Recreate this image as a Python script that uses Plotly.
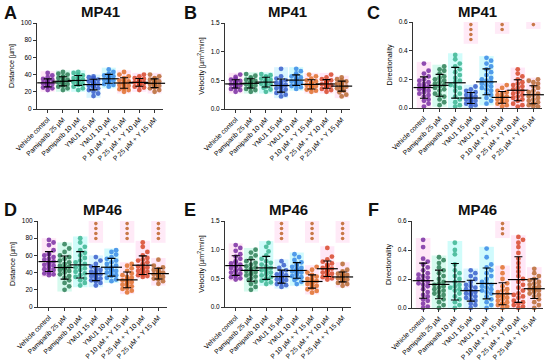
import numpy as np
import plotly.graph_objects as go

categories = ["Vehicle control", "Pamiparib 25 µM", "Pamiparib 10 µM", "YMU1 15 µM",
              "YMU1 10 µM", "P 10 µM + Y 15 µM", "P 25 µM + Y 10 µM", "P 25 µM + Y 15 µM"]
colors = ["#7a2fa3", "#2f7f57", "#3db592", "#3a5fcd", "#3a8ae6", "#e0702c", "#d8482a", "#b86a32"]
band_colors = ["rgba(255,170,225,0.28)", "rgba(120,240,200,0.30)", "rgba(120,245,240,0.35)",
               "rgba(150,225,255,0.35)", "rgba(120,240,250,0.35)", "rgba(255,170,225,0.28)",
               "rgba(255,170,225,0.28)", "rgba(255,170,225,0.28)"]

dist_mp41 = [
    [22,24,25,26,27,27,28,28,29,29,29,30,30,30,31,31,32,32,33,34,35,37,39,42],
    [22,24,26,27,28,29,29,30,30,31,31,32,32,33,33,34,35,36,37,38,40,41,43],
    [22,24,26,28,29,30,31,32,32,33,33,34,35,36,37,38,39,40,42,43],
    [15,18,20,22,24,25,26,27,27,28,28,29,30,30,31,32,33,34,35,36,37,38],
    [26,28,29,30,31,32,33,34,34,35,35,36,36,37,38,39,40,41,43,46],
    [20,22,23,24,25,26,27,28,29,29,30,30,31,32,33,34,35,36,38,40,43],
    [22,25,26,27,28,29,29,30,30,31,31,32,32,33,34,35,36,38,40],
    [20,22,24,25,26,27,28,28,29,29,30,30,31,31,32,33,34,35,36,38,40],
]
vel_mp41 = [
    [0.30,0.33,0.35,0.37,0.38,0.39,0.40,0.41,0.42,0.42,0.43,0.43,0.44,0.44,0.45,0.46,0.47,0.48,0.49,0.51,0.53,0.56,0.60],
    [0.30,0.33,0.35,0.37,0.38,0.40,0.41,0.42,0.43,0.44,0.44,0.45,0.46,0.47,0.48,0.49,0.51,0.53,0.55,0.58,0.61],
    [0.30,0.34,0.37,0.39,0.41,0.43,0.44,0.46,0.47,0.48,0.49,0.50,0.51,0.53,0.55,0.57,0.59,0.61],
    [0.22,0.25,0.28,0.30,0.32,0.34,0.36,0.38,0.39,0.40,0.41,0.42,0.43,0.45,0.46,0.48,0.50,0.53,0.57,0.70],
    [0.35,0.38,0.40,0.42,0.43,0.45,0.46,0.47,0.48,0.49,0.50,0.51,0.52,0.53,0.55,0.57,0.59,0.62,0.66,0.70],
    [0.30,0.32,0.34,0.36,0.37,0.38,0.39,0.40,0.41,0.42,0.43,0.44,0.45,0.46,0.48,0.50,0.53,0.57,0.60],
    [0.30,0.33,0.35,0.37,0.39,0.40,0.41,0.42,0.43,0.43,0.44,0.45,0.46,0.47,0.48,0.50,0.52,0.55,0.60],
    [0.22,0.25,0.29,0.32,0.34,0.36,0.37,0.38,0.39,0.40,0.41,0.42,0.43,0.44,0.45,0.46,0.48,0.50,0.52,0.55],
]
dir_mp41 = [
    [0.01,0.03,0.05,0.06,0.08,0.09,0.10,0.11,0.12,0.13,0.13,0.14,0.15,0.15,0.16,0.17,0.18,0.19,0.20,0.22,0.24,0.26,0.31],
    [0.02,0.04,0.06,0.08,0.09,0.10,0.12,0.13,0.14,0.15,0.16,0.17,0.18,0.19,0.20,0.21,0.22,0.24,0.26,0.27,0.29],
    [0.01,0.02,0.04,0.06,0.08,0.10,0.12,0.14,0.15,0.16,0.18,0.19,0.21,0.23,0.25,0.27,0.29,0.31,0.34,0.37],
    [0.01,0.02,0.03,0.03,0.04,0.04,0.05,0.05,0.06,0.06,0.07,0.07,0.08,0.08,0.09,0.10,0.11,0.12,0.13,0.15],
    [0.03,0.05,0.07,0.09,0.10,0.12,0.13,0.14,0.15,0.16,0.17,0.18,0.19,0.20,0.21,0.23,0.25,0.27,0.29,0.31,0.33,0.35],
    [0.01,0.02,0.03,0.04,0.04,0.05,0.06,0.06,0.07,0.07,0.08,0.08,0.09,0.10,0.11,0.12,0.14,0.16],
    [0.01,0.02,0.03,0.05,0.06,0.07,0.08,0.09,0.10,0.11,0.12,0.13,0.14,0.15,0.16,0.17,0.18,0.20,0.22,0.24,0.27],
    [0.01,0.01,0.02,0.03,0.03,0.04,0.05,0.06,0.07,0.08,0.09,0.10,0.11,0.12,0.14,0.15,0.17,0.18,0.19,0.20],
]
dist_mp46 = [
    [37,38,39,40,41,43,44,45,47,48,49,50,51,52,53,55,56,58,60,61,62,66,72,75,78],
    [20,24,28,31,34,36,38,40,42,43,44,45,46,47,48,50,52,54,56,58,60,64,68,73],
    [25,28,31,33,35,37,39,41,43,45,46,48,50,52,54,57,60,63,66,70,75,80],
    [25,28,30,31,32,33,34,35,36,36,37,38,38,39,40,41,42,43,45,47,50,54,58],
    [30,32,34,36,37,38,40,41,42,43,44,45,46,48,50,52,54,56,58,61,64,66],
    [17,19,21,22,24,25,26,27,28,29,30,31,32,33,34,35,37,39,42,45,48,50],
    [35,36,37,38,39,40,41,42,43,44,45,46,47,48,50,52,54,55,57,60,64,70,75],
    [27,30,32,33,34,35,36,37,37,38,38,39,39,40,40,41,42,43,44,46,48,55],
]
vel_mp46 = [
    [0.48,0.50,0.52,0.54,0.56,0.58,0.60,0.62,0.64,0.66,0.68,0.70,0.72,0.74,0.76,0.78,0.80,0.84,0.88,0.92,0.98,1.03,1.08],
    [0.30,0.35,0.40,0.44,0.47,0.50,0.53,0.55,0.57,0.59,0.61,0.63,0.65,0.67,0.69,0.71,0.74,0.77,0.80,0.85,0.90,0.95,1.00],
    [0.40,0.43,0.46,0.48,0.50,0.52,0.55,0.57,0.60,0.62,0.64,0.66,0.68,0.71,0.74,0.77,0.80,0.84,0.90,0.97,1.05,1.12],
    [0.35,0.38,0.40,0.42,0.44,0.45,0.47,0.48,0.49,0.50,0.51,0.52,0.53,0.54,0.55,0.57,0.59,0.61,0.64,0.68,0.73,0.80],
    [0.40,0.44,0.47,0.50,0.52,0.54,0.56,0.58,0.60,0.61,0.62,0.63,0.65,0.66,0.68,0.70,0.72,0.75,0.78,0.82,0.87,0.92],
    [0.25,0.28,0.31,0.33,0.35,0.37,0.38,0.40,0.41,0.42,0.43,0.44,0.45,0.46,0.47,0.49,0.51,0.53,0.56,0.60,0.65,0.70],
    [0.48,0.50,0.52,0.54,0.55,0.57,0.58,0.60,0.62,0.63,0.64,0.65,0.67,0.68,0.70,0.72,0.74,0.76,0.79,0.83,0.88,1.03],
    [0.37,0.40,0.42,0.44,0.46,0.47,0.48,0.49,0.50,0.51,0.52,0.52,0.53,0.54,0.55,0.56,0.57,0.58,0.60,0.62,0.65,0.75],
]
dir_mp46 = [
    [0.00,0.01,0.03,0.05,0.06,0.08,0.09,0.11,0.13,0.15,0.16,0.17,0.18,0.19,0.20,0.21,0.22,0.23,0.24,0.26,0.28,0.30,0.32,0.34,0.42,0.47],
    [0.00,0.02,0.04,0.06,0.08,0.09,0.10,0.11,0.12,0.13,0.14,0.15,0.16,0.17,0.18,0.20,0.22,0.24,0.26,0.28,0.31,0.33,0.35],
    [0.00,0.02,0.04,0.06,0.08,0.10,0.12,0.13,0.14,0.15,0.16,0.18,0.20,0.22,0.24,0.26,0.30,0.37,0.40,0.45],
    [0.00,0.02,0.03,0.05,0.06,0.07,0.08,0.09,0.10,0.10,0.11,0.12,0.13,0.14,0.15,0.16,0.18,0.20,0.22,0.24,0.26],
    [0.00,0.02,0.04,0.06,0.08,0.10,0.11,0.12,0.13,0.14,0.15,0.16,0.17,0.18,0.20,0.22,0.24,0.26,0.28,0.30,0.35,0.41],
    [0.00,0.01,0.02,0.03,0.03,0.04,0.05,0.06,0.07,0.08,0.08,0.09,0.10,0.11,0.12,0.13,0.15,0.17,0.20,0.24,0.28],
    [0.00,0.01,0.02,0.03,0.04,0.05,0.07,0.08,0.09,0.10,0.12,0.14,0.16,0.18,0.20,0.22,0.25,0.28,0.31,0.34,0.38,0.42,0.45,0.47,0.49],
    [0.00,0.02,0.04,0.06,0.08,0.09,0.10,0.11,0.12,0.12,0.13,0.13,0.14,0.14,0.15,0.16,0.17,0.18,0.19,0.20,0.22,0.24,0.27],
]

stars_C = [0, 0, 0, 4, 0, 2, 0, 1]
stars_D = [0, 0, 0, 4, 0, 4, 0, 4]
stars_E = [0, 0, 0, 4, 0, 4, 0, 4]
stars_F = [0, 0, 0, 0, 0, 3, 0, 0]
none8 = [0] * 8

ticks_dist = [0, 20, 40, 60, 80, 100]
ticks_vel = [0.0, 0.5, 1.0, 1.5]
ticks_dir = [0.0, 0.2, 0.4, 0.6]

W, H = 550, 364
panels = [
    ("A", "MP41", dist_mp41, "Distance [µm]", ticks_dist, 100, none8, (37, 163), (23, 109), (10, 13)),
    ("B", "MP41", vel_mp41, "Velocity [µm<sup>2</sup>/min]", ticks_vel, 1.5, none8, (225, 350), (23, 109), (190, 13)),
    ("C", "MP41", dir_mp41, "Directionality", ticks_dir, 0.6, stars_C, (413, 542), (22, 108), (373, 13)),
    ("D", "MP46", dist_mp46, "Distance [µm]", ticks_dist, 100, stars_D, (38, 167), (221, 307), (10, 210)),
    ("E", "MP46", vel_mp46, "Velocity [µm<sup>2</sup>/min]", ticks_vel, 1.5, stars_E, (225, 351), (221, 307), (190, 210)),
    ("F", "MP46", dir_mp46, "Directionality", ticks_dir, 0.6, stars_F, (412, 543), (221, 308), (373, 210)),
]

XR = (-0.7, 7.55)


def swarm(vals, ppx, ppy, d=4.6, maxoff=0.44):
    vals = np.asarray(vals, dtype=float)
    order = np.argsort(vals, kind="stable")
    placed = []
    offs = np.zeros(len(vals))
    lim = maxoff * ppx
    for i in order:
        yp = vals[i] * ppy
        best = None
        for k in range(0, 60):
            for s in ([0] if k == 0 else [1, -1]):
                o = s * k * d * 0.5
                if abs(o) > lim:
                    continue
                if all((o - po) ** 2 + (yp - py) ** 2 >= (d * 0.9) ** 2 for po, py in placed):
                    best = o
                    break
            if best is not None:
                break
        if best is None:
            best = 0.0
        offs[i] = best / ppx
        placed.append((best, yp))
    return offs


fig = go.Figure()
layout = dict(width=W, height=H, autosize=False, margin=dict(l=0, r=0, t=0, b=0, autoexpand=False),
              paper_bgcolor="white", plot_bgcolor="white", showlegend=False, template="none",
              font=dict(family="Arial, Liberation Sans, sans-serif", color="#111"))
shapes, annotations = [], []

for p, (letter, title, data, ytitle, ticks, ymax, stars, xs, ys, lp) in enumerate(panels):
    n = p + 1
    xa = "x" if n == 1 else f"x{n}"
    ya = "y" if n == 1 else f"y{n}"
    xkey = "xaxis" if n == 1 else f"xaxis{n}"
    ykey = "yaxis" if n == 1 else f"yaxis{n}"
    ppx = (xs[1] - xs[0]) / (XR[1] - XR[0])
    ppy = (ys[1] - ys[0]) / ymax
    for g, vals in enumerate(data):
        vals = np.array(vals, dtype=float)
        shapes.append(dict(type="rect", xref=xa, yref=ya, x0=g - 0.46, x1=g + 0.46,
                           y0=vals.min() - 0.02 * ymax, y1=vals.max() + 0.02 * ymax,
                           fillcolor=band_colors[g], line=dict(width=0), layer="below"))
        offs = swarm(vals, ppx, ppy)
        fig.add_trace(go.Scatter(x=g + offs, y=vals, mode="markers", xaxis=xa, yaxis=ya,
                                 marker=dict(size=4.8, color=colors[g], opacity=0.85, line=dict(width=0)),
                                 hoverinfo="skip", cliponaxis=False))
        m, sd = vals.mean(), vals.std(ddof=1)
        fig.add_trace(go.Scatter(x=[g], y=[m], mode="markers", xaxis=xa, yaxis=ya,
                                 marker=dict(symbol="line-ew", size=15, color="black",
                                             line=dict(width=1.2, color="black")),
                                 error_y=dict(type="data", array=[sd], thickness=1.1, width=4, color="black"),
                                 hoverinfo="skip", cliponaxis=False))
        k = stars[g]
        if k:
            sy = [ymax * (0.97 - j * 0.058) for j in range(k)]
            shapes.append(dict(type="rect", xref=xa, yref=ya, x0=g - 0.46, x1=g + 0.46,
                               y0=min(sy) - 0.05 * ymax, y1=ymax * 1.0,
                               fillcolor="rgba(255,170,225,0.25)", line=dict(width=0), layer="below"))
            fig.add_trace(go.Scatter(x=[g] * k, y=sy, mode="markers", xaxis=xa, yaxis=ya,
                                     marker=dict(size=3.6, color="#c87848"), hoverinfo="skip",
                                     cliponaxis=False))

    layout[xkey] = dict(domain=[xs[0] / W, xs[1] / W], range=list(XR), anchor=ya, automargin=False,
                        tickmode="array", tickvals=list(range(8)), ticktext=categories,
                        tickangle=-45, tickfont=dict(size=6.8, color="#000"),
                        showline=True, linecolor="#333", linewidth=1, ticks="outside",
                        ticklen=3, tickwidth=1, tickcolor="#333", showgrid=False, zeroline=False)
    layout[ykey] = dict(domain=[1 - ys[1] / H, 1 - ys[0] / H], range=[0, ymax * 1.0], anchor=xa,
                        automargin=False, tickmode="array", tickvals=ticks,
                        ticktext=[(f"{t:.1f}" if ymax < 5 else f"{int(t)}") for t in ticks],
                        tickfont=dict(size=6.5, color="#000"),
                        showline=True, linecolor="#333", linewidth=1, ticks="outside",
                        ticklen=3, tickwidth=1, tickcolor="#333", showgrid=False, zeroline=False,
                        title=dict(text=ytitle, font=dict(size=7.2, color="#000"), standoff=5))
    annotations.append(dict(text=f"<b>{title}</b>", x=(xs[0] + xs[1]) / 2 / W, y=1 - (ys[0] - 11) / H,
                            xref="paper", yref="paper", showarrow=False, xanchor="center",
                            yanchor="middle", font=dict(size=15, color="#111")))
    annotations.append(dict(text=f"<b>{letter}</b>", x=lp[0] / W, y=1 - lp[1] / H,
                            xref="paper", yref="paper", showarrow=False, xanchor="center",
                            yanchor="middle", font=dict(size=18, color="#111")))

layout["shapes"] = shapes
layout["annotations"] = annotations
fig.update_layout(**layout)
fig.write_html("out.html", config={"displayModeBar": False, "staticPlot": True},
               post_script="document.body.style.margin='0px';document.body.style.overflow='hidden';")
